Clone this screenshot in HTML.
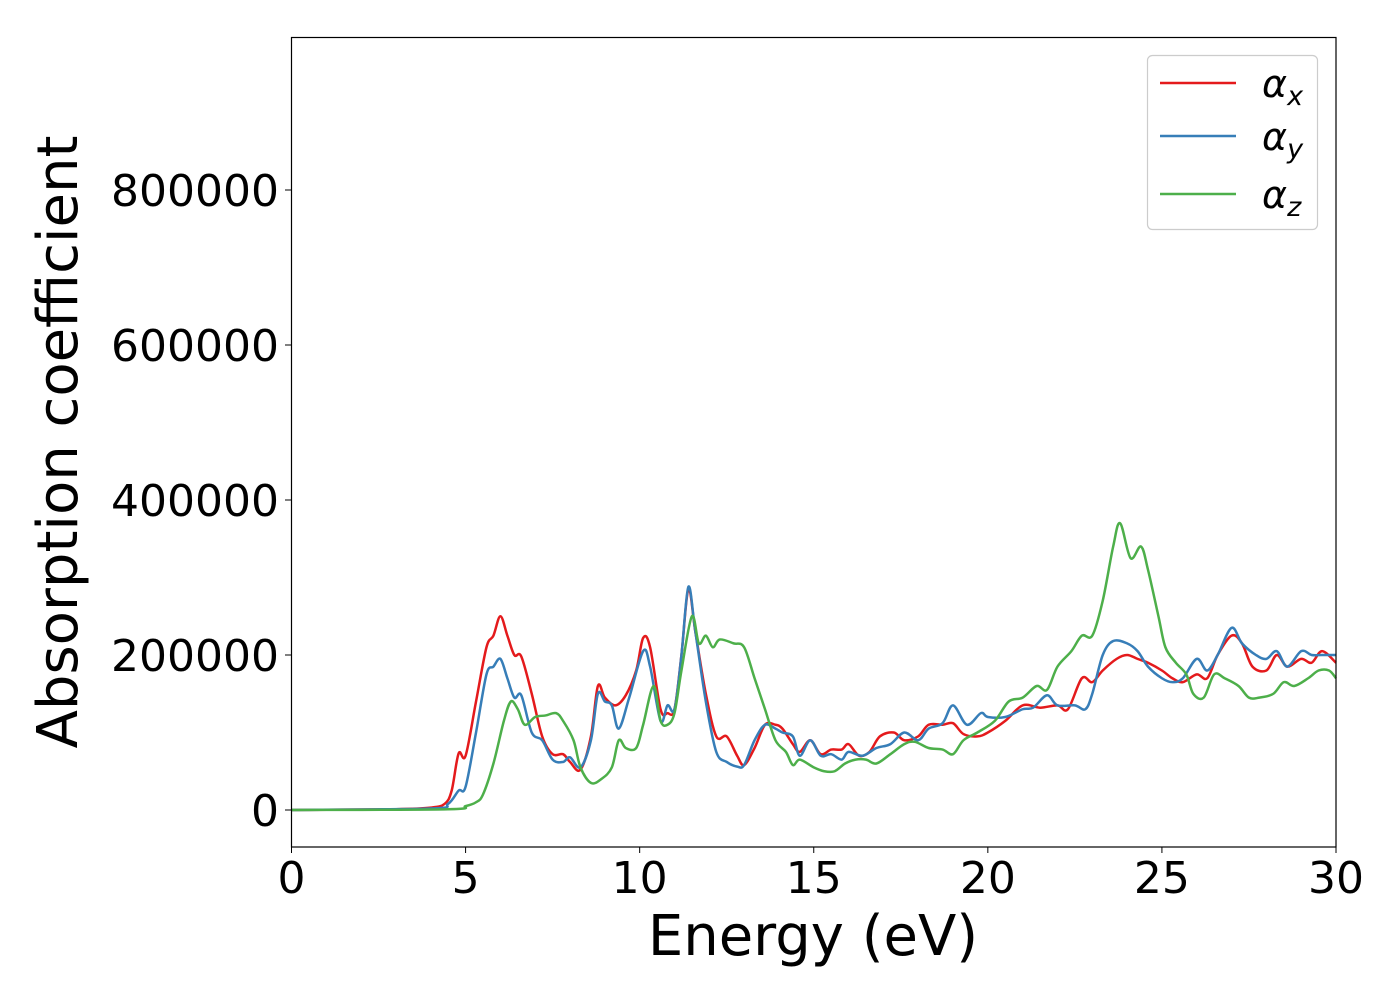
<!DOCTYPE html>
<html><head><meta charset="utf-8"><style>
body{margin:0;background:#fff;}
svg text{font-family:"DejaVu Sans","Liberation Sans",sans-serif;fill:#000;}
</style></head><body>
<svg id="chart" width="1400" height="1000" viewBox="0 0 1400 1000" xmlns="http://www.w3.org/2000/svg">
<rect width="1400" height="1000" fill="#fff"/>
<g id="series"></g>
<rect x="291.5" y="37.5" width="1044.5" height="809.5" fill="none" stroke="#000" stroke-width="1.2"/>
<g id="xticks"></g>
<g id="yticks"></g>
<text x="813" y="955" font-size="56" text-anchor="middle">Energy (eV)</text>
<text transform="translate(77,442) rotate(-90)" font-size="56" text-anchor="middle">Absorption coefficient</text>
<g>
<rect x="1147.5" y="55.5" width="170" height="174" rx="5" fill="#fff" stroke="#ccc" stroke-width="1.2"/>
<line x1="1160" y1="83" x2="1236" y2="83" stroke="#e41a1c" stroke-width="2.5"/>
<text x="1262" y="97" font-size="38" font-style="italic">α<tspan font-size="27" dy="8">x</tspan></text>
<line x1="1160" y1="136" x2="1236" y2="136" stroke="#377eb8" stroke-width="2.5"/>
<text x="1262" y="150" font-size="38" font-style="italic">α<tspan font-size="27" dy="8">y</tspan></text>
<line x1="1160" y1="194" x2="1236" y2="194" stroke="#4daf4a" stroke-width="2.5"/>
<text x="1262" y="208" font-size="38" font-style="italic">α<tspan font-size="27" dy="8">z</tspan></text>
</g>
</svg>
<script>
const xTicks=[0,5,10,15,20,25,30];
const yTicks=[0,200000,400000,600000,800000];
const xE=[0,3,4,4.4,4.6,4.8,5.0,5.3,5.6,5.8,6.0,6.2,6.4,6.6,6.9,7.2,7.5,7.8,8.0,8.3,8.6,8.8,9.0,9.3,9.6,9.9,10.1,10.3,10.6,10.8,11.0,11.2,11.4,11.6,11.9,12.2,12.5,12.8,13.0,13.3,13.6,13.9,14.1,14.4,14.6,14.9,15.2,15.5,15.8,16.0,16.3,16.6,16.9,17.3,17.6,18.0,18.3,18.7,19.0,19.3,19.7,20,20.5,21,21.5,22,22.3,22.7,23,23.3,23.7,24,24.3,24.6,25,25.3,25.6,26,26.3,26.6,27,27.3,27.6,28,28.3,28.6,29,29.3,29.6,30];
const xV=[0,1,3,8,25,73,70,140,210,225,250,225,200,198,150,95,72,72,62,52,95,160,145,135,148,180,222,210,130,125,130,200,285,230,150,95,95,70,58,80,110,110,105,85,75,90,72,78,78,85,70,75,95,100,90,95,110,110,112,98,95,100,115,135,132,135,130,170,165,180,195,200,195,190,180,170,165,175,170,200,225,215,185,180,200,185,195,190,205,190];
const yE=[0,4,4.5,4.8,5.0,5.3,5.6,5.8,6.0,6.2,6.4,6.6,6.9,7.2,7.5,7.8,8.0,8.3,8.6,8.8,9.0,9.2,9.4,9.7,10.1,10.3,10.6,10.8,11.0,11.2,11.4,11.6,11.9,12.2,12.5,12.8,13.0,13.3,13.6,13.9,14.1,14.4,14.6,14.9,15.2,15.5,15.8,16.0,16.4,16.8,17.2,17.6,18.0,18.3,18.7,19.0,19.4,19.8,20,20.5,21,21.3,21.7,22,22.5,22.8,23,23.3,23.6,24,24.3,24.6,25,25.3,25.6,26,26.3,26.6,27,27.3,27.7,28,28.3,28.6,29,29.3,29.6,30];
const yV=[0,2,8,25,30,100,175,185,195,170,145,148,100,90,65,62,68,55,90,150,140,135,105,145,205,185,115,135,130,200,288,230,140,75,62,56,58,90,110,105,100,95,70,90,70,72,65,75,70,80,85,100,90,105,112,135,110,125,120,120,130,132,148,135,135,130,150,200,218,215,205,185,170,165,170,195,180,200,235,215,200,195,205,185,205,200,200,200];
const zE=[0,4.5,5.0,5.3,5.5,5.8,6.1,6.3,6.5,6.7,7.0,7.3,7.6,7.8,8.1,8.3,8.6,8.9,9.2,9.4,9.6,9.9,10.1,10.4,10.6,10.8,11.0,11.2,11.5,11.7,11.9,12.1,12.3,12.7,13.0,13.3,13.6,13.9,14.2,14.4,14.6,15.0,15.3,15.6,15.9,16.2,16.5,16.8,17.2,17.6,17.9,18.3,18.7,19.0,19.3,19.7,20.2,20.6,21,21.4,21.7,22,22.4,22.7,23,23.3,23.6,23.8,24.1,24.4,24.6,24.9,25.1,25.4,25.7,25.9,26.2,26.5,26.8,27.2,27.5,27.8,28.2,28.5,28.8,29.2,29.5,29.8,30];
const zV=[0,1,5,10,20,60,115,140,130,110,120,122,125,115,90,55,35,40,55,90,80,80,110,160,115,110,125,180,250,215,225,210,220,215,210,170,130,90,75,58,65,55,50,50,60,65,65,60,72,85,88,80,78,72,90,100,115,140,145,160,155,185,205,225,225,270,340,370,325,340,310,250,210,190,175,150,145,175,170,160,145,145,150,165,160,170,180,180,170];
const X0=291.5,X1=1336,Y0=810,PX=155/200000;
const sx=v=>X0+(v/30)*(X1-X0);
const sy=v=>Y0-v*PX;
const NS='http://www.w3.org/2000/svg';
function path(E,V){
  const p=E.map((e,i)=>[sx(e),sy(V[i]*1000)]);
  let d='M'+p[0][0]+','+p[0][1];
  for(let i=0;i<p.length-1;i++){
    const a=p[Math.max(0,i-1)],b=p[i],c=p[i+1],e=p[Math.min(p.length-1,i+2)];
    const c1=[b[0]+(c[0]-a[0])/6,b[1]+(c[1]-a[1])/6],c2=[c[0]-(e[0]-b[0])/6,c[1]-(e[1]-b[1])/6];
    d+=' C'+c1+' '+c2+' '+c;
  }
  return d;
}
const g=document.getElementById('series');
[[xE,xV,'#e41a1c','alpha-x-line'],[yE,yV,'#377eb8','alpha-y-line'],[zE,zV,'#4daf4a','alpha-z-line']].forEach(s=>{
  const el=document.createElementNS(NS,'path');
  el.setAttribute('d',path(s[0],s[1]));
  el.setAttribute('fill','none');el.setAttribute('stroke',s[2]);el.setAttribute('stroke-width','2.5');
  
  
  g.appendChild(el);
});
const gx=document.getElementById('xticks');
xTicks.forEach(t=>{
  const l=document.createElementNS(NS,'line');
  l.setAttribute('x1',sx(t));l.setAttribute('x2',sx(t));l.setAttribute('y1',847);l.setAttribute('y2',853);l.setAttribute('stroke','#000');
  
  
  gx.appendChild(l);
  const tx=document.createElementNS(NS,'text');
  tx.setAttribute('x',sx(t));tx.setAttribute('y',893);tx.setAttribute('font-size','44');tx.setAttribute('text-anchor','middle');
  tx.textContent=t;
  
  
  gx.appendChild(tx);
});
const gy=document.getElementById('yticks');
yTicks.forEach(t=>{
  const l=document.createElementNS(NS,'line');
  l.setAttribute('x1',285);l.setAttribute('x2',291.5);l.setAttribute('y1',sy(t));l.setAttribute('y2',sy(t));l.setAttribute('stroke','#000');
  
  
  gy.appendChild(l);
  const tx=document.createElementNS(NS,'text');
  tx.setAttribute('x',279);tx.setAttribute('y',sy(t)+16);tx.setAttribute('font-size','44');tx.setAttribute('text-anchor','end');
  tx.textContent=t;
  
  
  gy.appendChild(tx);
});
</script>
</body></html>
